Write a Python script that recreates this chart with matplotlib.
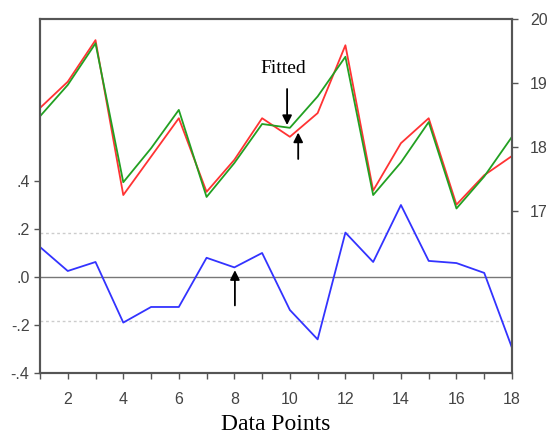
import numpy as np
import matplotlib.pyplot as plt

# Data
points = np.arange(1, 19)
actual = [18.61, 19.02, 19.67, 17.25, 17.85, 18.45, 17.30, 17.80, 18.45,
          18.16, 18.53, 19.59, 17.32, 18.06, 18.45, 17.10, 17.56, 17.86]
fitted = [18.48, 18.97, 19.62, 17.45, 17.98, 18.58, 17.22, 17.75, 18.36,
          18.30, 18.79, 19.41, 17.25, 17.76, 18.39, 17.04, 17.54, 18.16]
residual = [0.125, 0.025, 0.0625, -0.19, -0.125, -0.125, 0.08, 0.04, 0.10,
            -0.1375, -0.26, 0.185, 0.0625, 0.30, 0.067, 0.058, 0.017, -0.295]
std_err = 0.185

left_ticks = [-0.4, -0.2, 0.0, 0.2, 0.4]
left_labels = ['-.4', '-.2', '.0', '.2', '.4']
right_ticks = [17, 18, 19, 20]
x_ticks = list(range(2, 19, 2))

tick_color = '#444444'
spine_color = '#555555'

fig = plt.figure(figsize=(5.5, 4.37), dpi=100)
ax = fig.add_axes([0.0727, 0.1465, 0.8582, 0.81])
ax2 = ax.twinx()

# Residual (left axis)
ax.axhline(0, color='#777777', lw=1.0, zorder=1)
ax.axhline(std_err, color='#cccccc', lw=1.0, ls=(0, (2, 2)), zorder=1)
ax.axhline(-std_err, color='#cccccc', lw=1.0, ls=(0, (2, 2)), zorder=1)
ax.plot(points, residual, color='#3333ff', lw=1.3, zorder=3)
ax.set_ylim(-0.4, 1.075)
ax.set_yticks(left_ticks)
ax.set_yticklabels(left_labels)

# Actual and fitted (right axis)
ax2.plot(points, actual, color='#ff3333', lw=1.3)
ax2.plot(points, fitted, color='#22a022', lw=1.3)
ax2.set_ylim(14.47, 20)
ax2.set_yticks(right_ticks)

ax.set_xlim(1, 18)
ax.set_xticks(x_ticks)
ax.set_xticks(range(1, 19, 2), minor=True)

for a in (ax, ax2):
    a.tick_params(direction='out', length=4, width=1, colors=spine_color,
                  labelcolor=tick_color, labelsize=11.5)
    a.tick_params(which='minor', direction='out', length=4, width=1,
                  colors=spine_color)
    for s in a.spines.values():
        s.set_color(spine_color)
        s.set_linewidth(1.5)
    for lbl in a.get_xticklabels() + a.get_yticklabels():
        lbl.set_family('Liberation Sans')
ax.tick_params(axis='x', pad=10)
ax2.tick_params(axis='y', pad=9)

ax.set_xlabel('Data Points', family='Liberation Serif', fontsize=17,
              color='black', labelpad=5)

# Annotations
arrow = dict(arrowstyle='-|>', color='black', lw=1.3, mutation_scale=14)
ax2.text(9.75, 19.23, 'Fitted', family='Liberation Serif', fontsize=14,
         ha='center', va='center')
ax2.annotate('', xy=(9.9, 18.30), xytext=(9.9, 18.95), arrowprops=arrow)
ax2.annotate('', xy=(10.3, 18.27), xytext=(10.3, 17.77), arrowprops=arrow)
ax.annotate('', xy=(8.02, 0.04), xytext=(8.02, -0.13), arrowprops=arrow)

fig.savefig('out.png', dpi=100)
